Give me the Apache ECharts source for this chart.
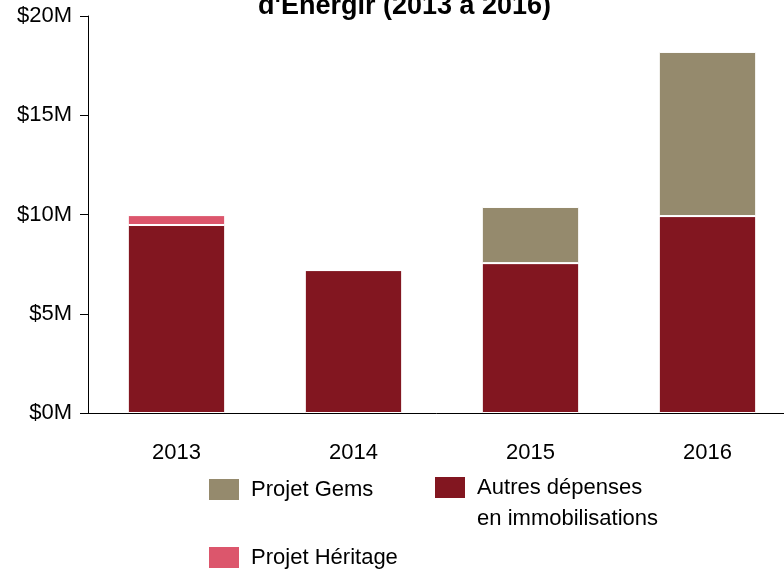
<!DOCTYPE html>
<html>
<head>
<meta charset="utf-8">
<script src="https://cdn.jsdelivr.net/npm/echarts@6/dist/echarts.min.js"></script>
<style>
  html, body { margin: 0; padding: 0; background: #fff; }
  #chart { width: 784px; height: 569px; }
</style>
</head>
<body>
<div id="chart"></div>
<script>
// données (en millions de $)
var years = ['2013', '2014', '2015', '2016'];
var autres = [9.47, 7.2, 7.55, 9.92];
var heritage = [0.5, 0, 0, 0];
var gems = [0, 0, 2.83, 8.27];
var yTicks = [0, 5, 10, 15, 20];

var autresName = 'Autres dépenses en immobilisations';
var font = '"Liberation Sans", Arial, sans-serif';

var myChart = echarts.init(document.getElementById('chart'));

function legendAt(name, left, top, fmt, lh) {
    return {
        data: [name],
        left: left,
        top: top,
        padding: 0,
        itemWidth: 32,
        itemHeight: 23,
        icon: 'rect',
        selectedMode: false,
        formatter: fmt || function (n) { return ' ' + n; },
        textStyle: { fontSize: 22, color: '#000', fontFamily: font, lineHeight: lh || 27 }
    };
}

var option = {
    animation: false,
    title: {
        text: "d'Énergir (2013 à 2016)",
        left: 258,
        top: -7,
        padding: 0,
        textStyle: { fontSize: 27, fontWeight: 'bold', color: '#000', fontFamily: font }
    },
    legend: [
        legendAt('Projet Gems', 207, 476),
        // ligne vide en tête : la première ligne du texte reste centrée sur le carré
        legendAt(autresName, 433, 441, function () {
            return '\n Autres dépenses\n en immobilisations';
        }, 31),
        legendAt('Projet Héritage', 207, 544)
    ],
    grid: { left: 88, top: 16, width: 708, height: 397, outerBoundsMode: 'none' },
    xAxis: {
        type: 'category',
        data: years,
        axisLine: { lineStyle: { color: '#000', width: 1 } },
        axisTick: { length: 9, lineStyle: { color: '#000' } },
        axisLabel: { fontSize: 22, color: '#000', fontFamily: font, margin: 29 }
    },
    yAxis: {
        type: 'value',
        min: yTicks[0],
        max: yTicks[yTicks.length - 1],
        interval: 5,
        splitLine: { show: false },
        axisLine: { show: true, lineStyle: { color: '#000', width: 1 } },
        axisTick: { show: true, length: 8, lineStyle: { color: '#000' } },
        axisLabel: {
            fontSize: 22, color: '#000', fontFamily: font, margin: 16,
            formatter: function (v) { return '$' + v + 'M'; }
        }
    },
    series: [
        {
            name: autresName,
            type: 'bar',
            stack: 'total',
            barWidth: '55%',
            data: autres,
            itemStyle: { color: '#821620', borderColor: '#fff', borderWidth: 1 }
        },
        {
            name: 'Projet Héritage',
            type: 'bar',
            stack: 'total',
            data: heritage,
            itemStyle: { color: '#DC566C', borderColor: '#fff', borderWidth: 1 }
        },
        {
            name: 'Projet Gems',
            type: 'bar',
            stack: 'total',
            data: gems,
            itemStyle: { color: '#958A6D', borderColor: '#fff', borderWidth: 1 }
        }
    ]
};

myChart.setOption(option);
</script>
</body>
</html>
